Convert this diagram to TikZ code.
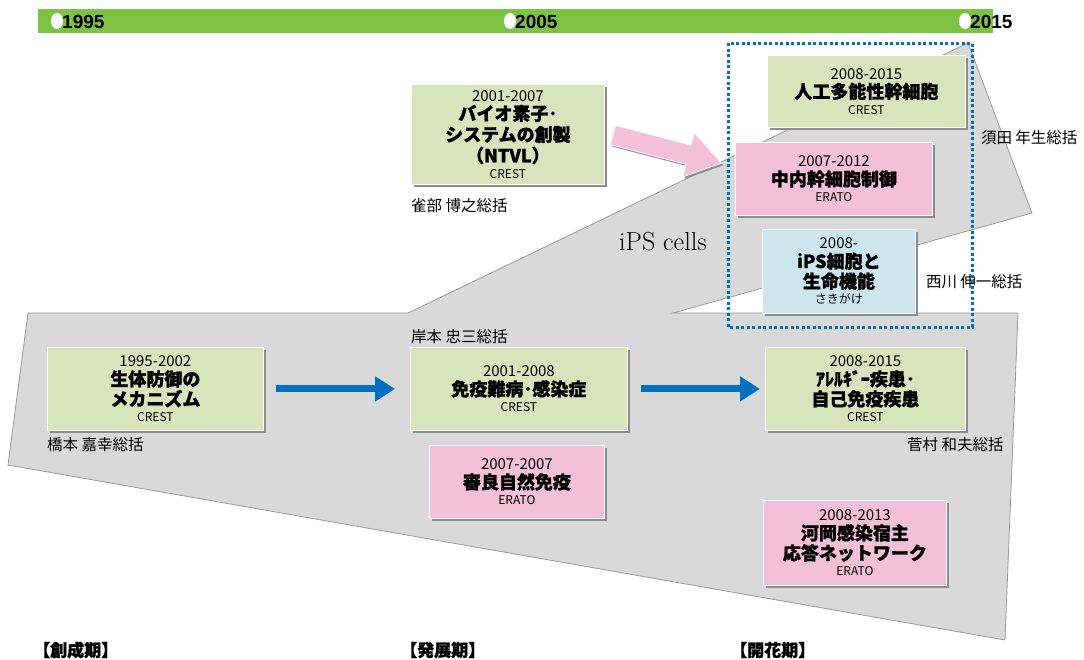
\documentclass[tikz,border=0pt]{standalone}
\usepackage{fontspec}
\newfontfamily\jpfont[BoldFeatures={FakeBold=1.2}]{Noto Sans CJK JP}
\newfontfamily\barfont{Liberation Sans}
\usetikzlibrary{arrows.meta,shadows,positioning}
\definecolor{bargreen}{RGB}{125,194,66}
\definecolor{crestgreen}{RGB}{216,228,188}
\definecolor{eratopink}{RGB}{244,192,216}
\definecolor{sakiblue}{RGB}{205,230,238}
\definecolor{areagray}{RGB}{217,217,217}
\definecolor{flowblue}{RGB}{0,112,192}
\newcommand{\boxyear}[1]{{\fontsize{15}{19}\selectfont #1}}
\newcommand{\boxtitle}[1]{{\bfseries\fontsize{18}{21}\selectfont #1}}
\newcommand{\boxorg}[1]{{\fontsize{12}{13}\selectfont #1}}
\tikzstyle{box}=[draw=white, line width=0.8pt, align=center, inner sep=0pt, anchor=north west, drop shadow={shadow xshift=2.5pt, shadow yshift=-2.5pt, fill=black!45, opacity=1}, font=\jpfont\fontsize{14}{19}\selectfont]
\tikzstyle{boxgreen}=[box, fill=crestgreen]
\tikzstyle{boxpink}=[box, fill=eratopink]
\tikzstyle{boxblue}=[box, fill=sakiblue]
\tikzstyle{chair}=[inner sep=0pt, font=\jpfont\fontsize{15.5}{17}\selectfont]
\tikzstyle{period}=[inner sep=0pt, anchor=west, font=\jpfont\bfseries\fontsize{17}{19}\selectfont]
\tikzstyle{yearlbl}=[inner sep=0pt, anchor=west, font=\barfont\bfseries\fontsize{19}{21}\selectfont]
\tikzstyle{flow}=[draw=flowblue, line width=7pt, -{Triangle[length=20pt,width=24pt]}]

\begin{document}
\begin{tikzpicture}[x=1pt, y=-1pt]
  \useasboundingbox (0,0) rectangle (1084,659);
  % gray areas
  \filldraw[fill=areagray, draw=black!40, line width=0.8pt]
    (28,313) -- (408,313) -- (968,43) -- (1032,213) -- (673,313)
    -- (1018,313) -- (1005,640) -- (8,465) -- cycle;
  % time bar
  \fill[bargreen] (38,9) rectangle (993,33);
  \foreach \x/\y in {57/1995, 510/2005, 965/2015}{
    \fill[white] (\x,21) ellipse (6 and 8);
    \node[yearlbl] (y\y) at (\x+5,22) {\y};
  }
  % boxes
  \node[boxgreen, minimum width=193pt, minimum height=100pt] (ntvl) at (411,84)
    {\boxyear{2001-2007}\\ \boxtitle{バイオ素子･}\\[2pt] \boxtitle{システムの創製}\\[2pt] \boxtitle{（NTVL）}\\[-3pt] \boxorg{CREST}};
  \node[boxgreen, minimum width=198pt, minimum height=72pt] (ipsc) at (767,55)
    {\boxyear{2008-2015}\\ \boxtitle{人工多能性幹細胞}\\[-3pt] \boxorg{CREST}};
  \node[boxpink, minimum width=197pt, minimum height=73pt] (naka) at (735,142)
    {\boxyear{2007-2012}\\ \boxtitle{中内幹細胞制御}\\[-3pt] \boxorg{ERATO}};
  \node[boxblue, minimum width=153pt, minimum height=84pt] (saki) at (762,229)
    {\boxyear{2008-}\\ \boxtitle{iPS細胞と}\\[1pt] \boxtitle{生命機能}\\[-3pt] \boxorg{さきがけ}};
  \node[boxgreen, minimum width=216pt, minimum height=83pt] (seitai) at (47,347)
    {\boxyear{1995-2002}\\ \boxtitle{生体防御の}\\[1pt] \boxtitle{メカニズム}\\[-3pt] \boxorg{CREST}};
  \node[boxgreen, minimum width=217pt, minimum height=83pt] (meneki) at (410,347)
    {\boxyear{2001-2008}\\ \boxtitle{免疫難病･感染症}\\[-3pt] \boxorg{CREST}};
  \node[boxpink, minimum width=175pt, minimum height=73pt] (shizen) at (429,445)
    {\boxyear{2007-2007}\\ \boxtitle{審良自然免疫}\\[-3pt] \boxorg{ERATO}};
  \node[boxgreen, minimum width=200pt, minimum height=83pt] (allergy) at (765,347)
    {\boxyear{2008-2015}\\ \boxtitle{ｱﾚﾙｷﾞｰ疾患･}\\[1pt] \boxtitle{自己免疫疾患}\\[-3pt] \boxorg{CREST}};
  \node[boxpink, minimum width=183pt, minimum height=85pt] (kawaoka) at (763,500)
    {\boxyear{2008-2013}\\ \boxtitle{河岡感染宿主}\\[1pt] \boxtitle{応答ネットワーク}\\[-3pt] \boxorg{ERATO}};
  % supervisors
  \node[chair, below right=13pt and 0pt of ntvl.south west] (sasabe) {雀部 博之総括};
  \node[chair, anchor=north west] (suda) at ([xshift=15pt, yshift=-2pt]ipsc.south east) {須田 年生総括};
  \node[chair, anchor=west] (nishikawa) at ([xshift=10pt, yshift=-10pt]saki.east) {西川 伸一総括};
  \node[chair, above right=3pt and 1pt of meneki.north west] (kishimoto) {岸本 忠三総括};
  \node[chair, below right=6pt and 0pt of seitai.south west] (hashimoto) {橋本 嘉幸総括};
  \node[chair, anchor=north east] (sugamura) at ([xshift=38pt, yshift=-6pt]allergy.south east) {菅村 和夫総括};
  \node[inner sep=0pt, anchor=west, font=\fontsize{26}{28}\selectfont] (ipscells) at (619,242) {iPS cells};
  % ips frame
  \draw[flowblue, line width=3pt, dash pattern=on 3pt off 2.5pt] (728,43) rectangle (972,327);
  % arrows
  \draw[flow, shorten <=12pt, shorten >=15pt] (seitai) -- (meneki);
  \draw[flow, shorten <=13pt, shorten >=5pt] (meneki) -- (allergy);
  \begin{scope}[shift={(613,135)}, rotate=-14.6]
    \filldraw[fill=eratopink, draw=white, line width=0.8pt, drop shadow={shadow xshift=2pt, shadow yshift=-2pt, fill=black!45, opacity=1}]
      (0,-10) -- (78,-10) -- (78,-23) -- (112,0) -- (78,23) -- (78,10) -- (0,10) -- cycle;
  \end{scope}
  % periods
  \node[period] (sousei) at (33,650) {【創成期】};
  \node[period] (hatten) at (400,650) {【発展期】};
  \node[period] (kaika) at (730,650) {【開花期】};
\end{tikzpicture}
\end{document}
